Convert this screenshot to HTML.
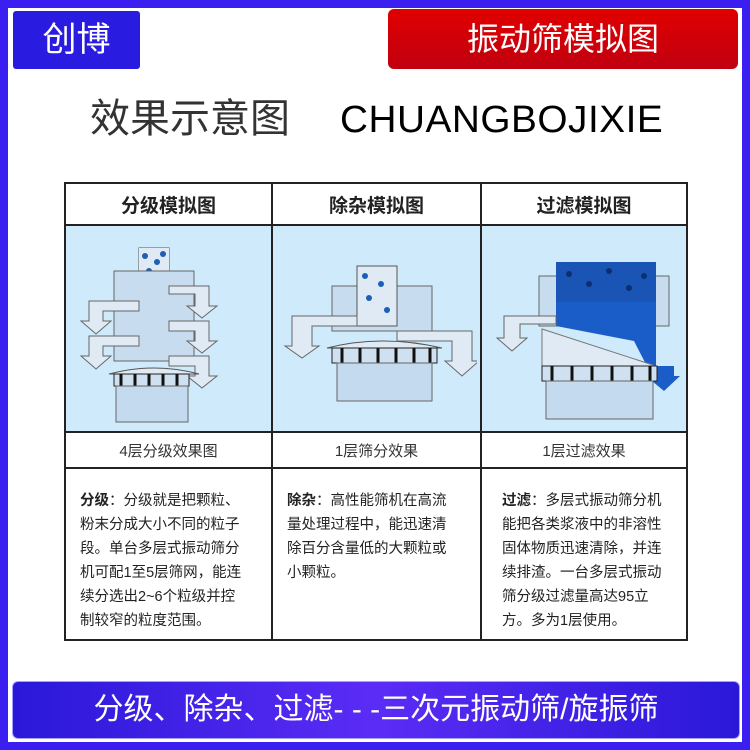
<!DOCTYPE html>
<html><head><meta charset="utf-8"><style>
body{margin:0;width:750px;height:750px;overflow:hidden;background:#3b1ff0;font-family:"Liberation Sans","Noto Sans CJK SC",sans-serif}
.in{position:absolute;left:8px;top:8px;width:734px;height:734px;background:#fff}
.b1{position:absolute;left:13px;top:11px;width:127px;height:58px;background:#2a1be0;color:#fff;font-size:34px;line-height:58px;text-align:center;border-radius:3px}
.b2{position:absolute;left:388px;top:9px;width:350px;height:60px;background:linear-gradient(#e00000,#c00010);color:#fff;font-size:32px;line-height:60px;text-align:center;border-radius:6px}
.t1{position:absolute;left:90px;top:94px;font-size:40px;color:#333;line-height:50px}
.t2{position:absolute;left:340px;top:95px;font-size:38px;color:#000;line-height:50px;font-family:"Liberation Sans",sans-serif;letter-spacing:0.5px;transform:scaleX(1.02);transform-origin:left}
table{position:absolute;left:64px;top:182px;width:624px;height:459px;border-collapse:collapse}
td{border:2px solid #222;padding:0;text-align:center;vertical-align:middle}
.h{height:40px;font-size:19px;font-weight:bold;color:#222}
.img{height:202px;background:#cfeafb}
.cap{height:34px;font-size:15px;color:#333}
.tx{text-align:left;vertical-align:top;font-size:14.5px;line-height:24px;color:#222;padding:20px 26px 0 14px}
.bot{position:absolute;left:12px;top:681px;width:726px;height:56px;background:linear-gradient(90deg,#2a18d8,#5b2cf5 50%,#2a18d8);border-radius:6px;border:1px solid #a8a0ff;color:#fff;font-size:30px;line-height:56px;text-align:center}
</style></head><body>
<div class="in"></div>
<div class="b1">创博</div>
<div class="b2">振动筛模拟图</div>
<div class="t1">效果示意图</div>
<div class="t2">CHUANGBOJIXIE</div>
<table>
<tr><td class="h" style="width:205px">分级模拟图</td><td class="h" style="width:207px">除杂模拟图</td><td class="h">过滤模拟图</td></tr>
<tr>
<td class="img"><svg width="200" height="200" viewBox="0 0 200 200">
<rect x="70" y="22" width="30" height="110" fill="#b8d4ec" stroke="#555"/>
<rect x="70" y="22" width="30" height="30" fill="#dfeaf5"/>
<g fill="#1a5fb8"><circle cx="76" cy="30" r="3"/><circle cx="88" cy="36" r="3"/><circle cx="80" cy="45" r="3"/><circle cx="94" cy="28" r="3"/></g>
<rect x="45" y="45" width="80" height="90" fill="#c7dcef" stroke="#666"/>
<path d="M100 60 H140 V80 H148 L133 92 L118 80 H126 V68 H100Z" fill="#dfeaf5" stroke="#666"/>
<path d="M70 75 H20 V95 H12 L27 108 L42 95 H34 V85 H70Z" fill="#dfeaf5" stroke="#666"/>
<path d="M100 95 H140 V115 H148 L133 127 L118 115 H126 V105 H100Z" fill="#dfeaf5" stroke="#666"/>
<path d="M70 110 H20 V130 H12 L27 143 L42 130 H34 V120 H70Z" fill="#dfeaf5" stroke="#666"/>
<path d="M100 130 H140 V150 H148 L133 162 L118 150 H126 V140 H100Z" fill="#dfeaf5" stroke="#666"/>
<path d="M40 148 Q85 136 130 148Z" fill="#dfeaf5" stroke="#555"/>
<rect x="45" y="148" width="75" height="12" fill="#cfe0f0" stroke="#222"/>
<g stroke="#111" stroke-width="3"><line x1="52" y1="148" x2="52" y2="160"/><line x1="66" y1="148" x2="66" y2="160"/><line x1="80" y1="148" x2="80" y2="160"/><line x1="94" y1="148" x2="94" y2="160"/><line x1="108" y1="148" x2="108" y2="160"/></g>
<rect x="47" y="160" width="72" height="36" fill="#c4daee" stroke="#666"/>
</svg></td>
<td class="img"><svg width="200" height="200" viewBox="0 0 200 200">
<rect x="55" y="60" width="100" height="45" fill="#c7dcef" stroke="#666"/>
<rect x="80" y="40" width="40" height="60" fill="#dfeaf5" stroke="#555"/>
<g fill="#1a5fb8"><circle cx="88" cy="50" r="3"/><circle cx="104" cy="58" r="3"/><circle cx="92" cy="72" r="3"/><circle cx="110" cy="84" r="3"/></g>
<path d="M80 90 H15 V120 H8 L25 132 L42 120 H35 V100 H80Z" fill="#dfeaf5" stroke="#666"/>
<path d="M120 105 H195 V135 H202 L185 150 L168 135 H175 V115 H120Z" fill="#dfeaf5" stroke="#666"/>
<path d="M50 122 Q105 108 165 122Z" fill="#dfeaf5" stroke="#555"/>
<rect x="55" y="122" width="105" height="15" fill="#cfe0f0" stroke="#222"/>
<g stroke="#111" stroke-width="3"><line x1="65" y1="122" x2="65" y2="137"/><line x1="83" y1="122" x2="83" y2="137"/><line x1="101" y1="122" x2="101" y2="137"/><line x1="119" y1="122" x2="119" y2="137"/><line x1="137" y1="122" x2="137" y2="137"/><line x1="153" y1="122" x2="153" y2="137"/></g>
<rect x="60" y="137" width="95" height="38" fill="#c4daee" stroke="#666"/>
</svg></td>
<td class="img"><svg width="200" height="200" viewBox="0 0 200 200">
<rect x="55" y="50" width="130" height="50" fill="#c7dcef" stroke="#666"/>
<rect x="72" y="36" width="100" height="40" fill="#1a55b5"/>
<path d="M72 76 H172 V140 L190 140 V150 H196 L180 165 L162 150 H168 L150 115 L72 100Z" fill="#1a5cc8"/>
<g fill="#0b2f70"><circle cx="85" cy="48" r="3"/><circle cx="105" cy="58" r="3"/><circle cx="125" cy="45" r="3"/><circle cx="145" cy="62" r="3"/><circle cx="160" cy="50" r="3"/></g>
<path d="M72 90 H20 V112 H13 L28 125 L43 112 H36 V98 H72Z" fill="#dfeaf5" stroke="#666"/>
<path d="M58 103 L172 140 L58 140Z" fill="#dfeaf5" stroke="#777"/>
<rect x="58" y="140" width="115" height="15" fill="#cfe0f0" stroke="#222"/>
<g stroke="#111" stroke-width="3"><line x1="68" y1="140" x2="68" y2="155"/><line x1="88" y1="140" x2="88" y2="155"/><line x1="108" y1="140" x2="108" y2="155"/><line x1="128" y1="140" x2="128" y2="155"/><line x1="148" y1="140" x2="148" y2="155"/><line x1="166" y1="140" x2="166" y2="155"/></g>
<rect x="62" y="155" width="107" height="38" fill="#c4daee" stroke="#666"/>
</svg></td>
</tr>
<tr><td class="cap">4层分级效果图</td><td class="cap">1层筛分效果</td><td class="cap">1层过滤效果</td></tr>
<tr><td class="tx"><b>分级</b>：分级就是把颗粒、粉末分成大小不同的粒子段。单台多层式振动筛分机可配1至5层筛网，能连续分选出2~6个粒级并控制较窄的粒度范围。</td>
<td class="tx"><b>除杂</b>：高性能筛机在高流量处理过程中，能迅速清除百分含量低的大颗粒或小颗粒。</td>
<td class="tx" style="padding-left:20px;padding-right:22px"><b>过滤</b>：多层式振动筛分机能把各类浆液中的非溶性固体物质迅速清除，并连续排渣。一台多层式振动筛分级过滤量高达95立方。多为1层使用。</td></tr>
</table>
<div class="bot">分级、除杂、过滤- - -三次元振动筛/旋振筛</div>
</body></html>
